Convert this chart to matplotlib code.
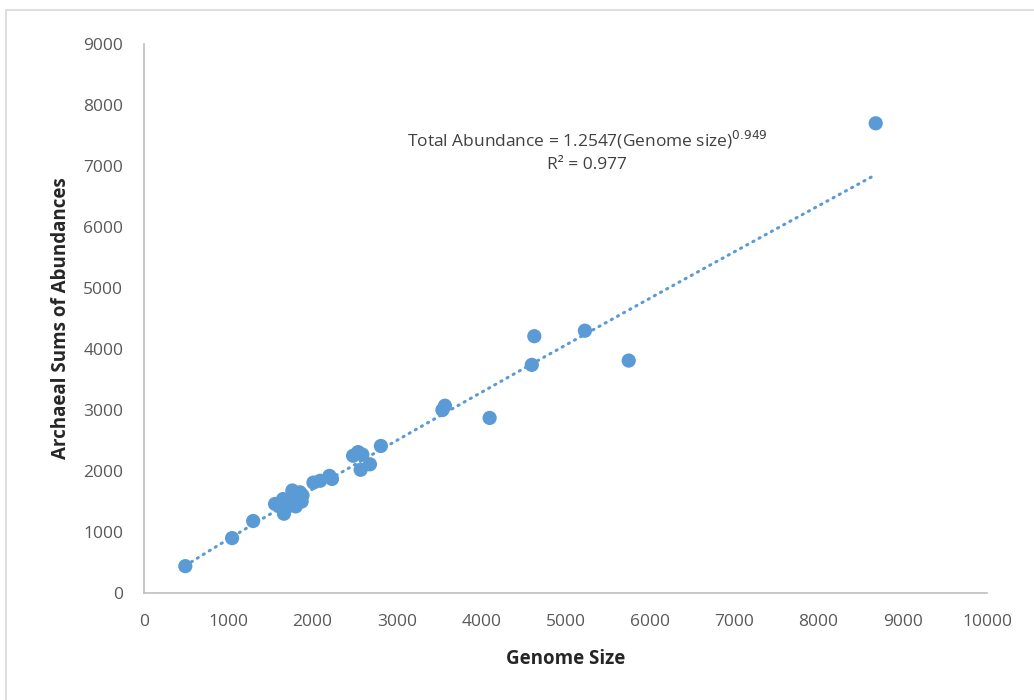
import numpy as np
import matplotlib.pyplot as plt
from matplotlib.patches import Rectangle

# genome size vs summed archaeal abundances
genome_size = [490, 1045, 1295, 1555, 1610, 1650, 1660, 1690, 1720, 1745, 1760, 1770,
               1790, 1800, 1820, 1840, 1850, 1870, 1880, 2010, 2090, 2200, 2230,
               2480, 2540, 2590, 2570, 2680, 2810, 3540, 3570, 4100, 4600, 4630,
               5230, 5750, 8680]
abundance = [440, 900, 1180, 1460, 1420, 1540, 1300, 1400, 1500, 1560, 1680, 1450,
             1620, 1420, 1530, 1590, 1650, 1500, 1600, 1810, 1840, 1920, 1870,
             2250, 2310, 2270, 2020, 2110, 2410, 3000, 3070, 2870, 3740, 4210,
             4300, 3810, 7700]

# power-law trendline coefficients
coef_a = 1.2547
coef_b = 0.949
r_squared = 0.977

blue = '#5B9BD5'
grey_text = '#595959'

plt.rcParams['font.family'] = ['Open Sans', 'DejaVu Sans']

fig = plt.figure(figsize=(10.34, 7.0), dpi=100)
# chart frame, runs off the right and bottom edges
fig.patches.append(Rectangle((6 / 1034, -20 / 700), 1100 / 1034, 710 / 700,
                             transform=fig.transFigure, fill=False,
                             edgecolor='#d9d9d9', linewidth=1.2))

ax = fig.add_axes([144 / 1034, 1 - 593 / 700, 843 / 1034, 549 / 700])

xs = np.linspace(min(genome_size), max(genome_size), 300)
ax.plot(xs, coef_a * xs ** coef_b, color=blue, linewidth=2.2,
        linestyle=(0, (0.4, 1.9)), dash_capstyle='round', zorder=2)
ax.scatter(genome_size, abundance, s=105, color=blue, edgecolors='none', zorder=3)

ax.set_xlim(0, 10000)
ax.set_ylim(0, 9000)
ax.set_xticks(range(0, 10001, 1000))
ax.set_yticks(range(0, 9001, 1000))
ax.tick_params(length=0, labelsize=12.5, labelcolor=grey_text, pad=15)

for side in ['top', 'right']:
    ax.spines[side].set_visible(False)
for side in ['left', 'bottom']:
    ax.spines[side].set_color('#bfbfbf')
    ax.spines[side].set_linewidth(1.2)

ax.set_xlabel('Genome Size', fontsize=13.5, fontweight='bold', color='#262626', labelpad=14)
ax.set_ylabel('Archaeal Sums of Abundances', fontsize=13.5, fontweight='bold',
              color='#262626', labelpad=9)

ax.text(5255, 7426, 'Total Abundance = %.4f(Genome size)$^{%.3f}$' % (coef_a, coef_b),
        fontsize=12.5, color='#404040', ha='center', va='center')
ax.text(5255, 7016, 'R² = %.3f' % r_squared, fontsize=12.5, color='#404040',
        ha='center', va='center')

fig.savefig('out.png', dpi=100)
